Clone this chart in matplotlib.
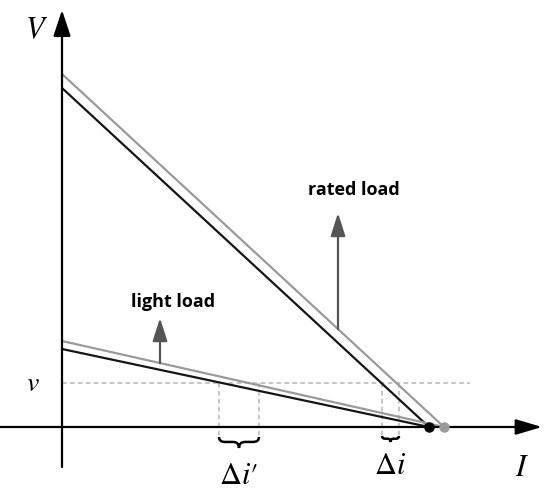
import matplotlib.pyplot as plt
from matplotlib.path import Path
from matplotlib.patches import PathPatch

plt.rcParams['mathtext.fontset'] = 'stix'

# droites V-I (origine des axes = (0, 0)), unités arbitraires
loads = ['rated load', 'light load']
v0_black = [339, 78]
i0_black = [367, 367]
v0_gray = [353, 86]
i0_gray = [382, 382]
v_level = 44
delta_i_light = [157, 197]
delta_i_rated = [320, 337]
arrow_x = [276, 98]


def brace(ax, x0, x1, y_top, depth, r):
    xm = (x0 + x1) / 2
    yb = y_top - depth * 0.45
    yt = y_top - depth
    verts = [(x0, y_top), (x0, yb), (x0 + r, yb), (xm - r, yb), (xm, yb), (xm, yt),
             (xm, yb), (xm + r, yb), (x1 - r, yb), (x1, yb), (x1, y_top)]
    codes = [Path.MOVETO, Path.CURVE3, Path.CURVE3, Path.LINETO, Path.CURVE3, Path.CURVE3,
             Path.CURVE3, Path.CURVE3, Path.LINETO, Path.CURVE3, Path.CURVE3]
    ax.add_patch(PathPatch(Path(verts, codes), fill=False, lw=1.8, color='black'))


fig = plt.figure(figsize=(5.5, 4.93), dpi=100)
ax = fig.add_axes([0, 0, 1, 1])
ax.set_xlim(-62, 488)
ax.set_ylim(-66, 427)
ax.axis('off')

gray = '#9a9a9a'
dark = '#151515'

# axes avec flèches
ax.annotate('', xy=(0, 417), xytext=(0, -40),
            arrowprops=dict(arrowstyle='-|>,head_length=1.15,head_width=0.38', mutation_scale=14,
                            lw=1.6, color='black', shrinkA=0, shrinkB=0))
ax.annotate('', xy=(480, 0), xytext=(-62, 0),
            arrowprops=dict(arrowstyle='-|>,head_length=1.15,head_width=0.34', mutation_scale=14,
                            lw=1.6, color='black', shrinkA=0, shrinkB=0))

# ligne v en pointillés
ax.plot([0, 408], [v_level, v_level], ls=(0, (3, 2.2)), color='#b5b5b5', lw=1.1)
for x in delta_i_light + delta_i_rated:
    ax.plot([x, x], [v_level, -10], ls=(0, (3, 2.2)), color='#b5b5b5', lw=1.1)

# caractéristiques
for i in range(2):
    ax.plot([0, i0_gray[i]], [v0_gray[i], 0], color=gray, lw=1.6, solid_capstyle='butt')
    ax.plot([0, i0_black[i]], [v0_black[i], 0], color=dark, lw=1.6, solid_capstyle='butt')

ax.plot(i0_black[0], 0, 'o', color='black', ms=6.5, zorder=5)
ax.plot(i0_gray[0], 0, 'o', color=gray, ms=6.5, zorder=5)

# flèches de décalage
for i in range(2):
    x = arrow_x[i]
    y_start = v0_gray[i] * (1 - x / i0_gray[i])
    y_end = 214 if i == 0 else 109
    ax.annotate('', xy=(x, y_end), xytext=(x, y_start),
                arrowprops=dict(arrowstyle='-|>,head_length=1.0,head_width=0.32', mutation_scale=14,
                                lw=1.6, color='#555555', shrinkA=0, shrinkB=0))

ax.text(292, 237, loads[0], fontsize=13, fontweight='bold', family='Open Sans',
        ha='center', va='center')
ax.text(111, 125, loads[1], fontsize=13, fontweight='bold', family='Open Sans',
        ha='center', va='center')

# accolades
brace(ax, delta_i_light[0], delta_i_light[1], -10, 11, 6)
brace(ax, delta_i_rated[0], delta_i_rated[1], -9, 6, 3)

# étiquettes
ax.text(-26, 397, '$V$', fontsize=22, ha='center', va='center')
ax.text(-29, v_level, '$v$', fontsize=20, ha='center', va='center')
ax.text(460, -40, '$I$', fontsize=22, ha='center', va='center')
ax.text(328, -38, r'$\Delta i$', fontsize=22, ha='center', va='center')
ax.text(176, -49, r"$\Delta i\prime$", fontsize=22, ha='center', va='center')

fig.savefig('out.png', dpi=100)
